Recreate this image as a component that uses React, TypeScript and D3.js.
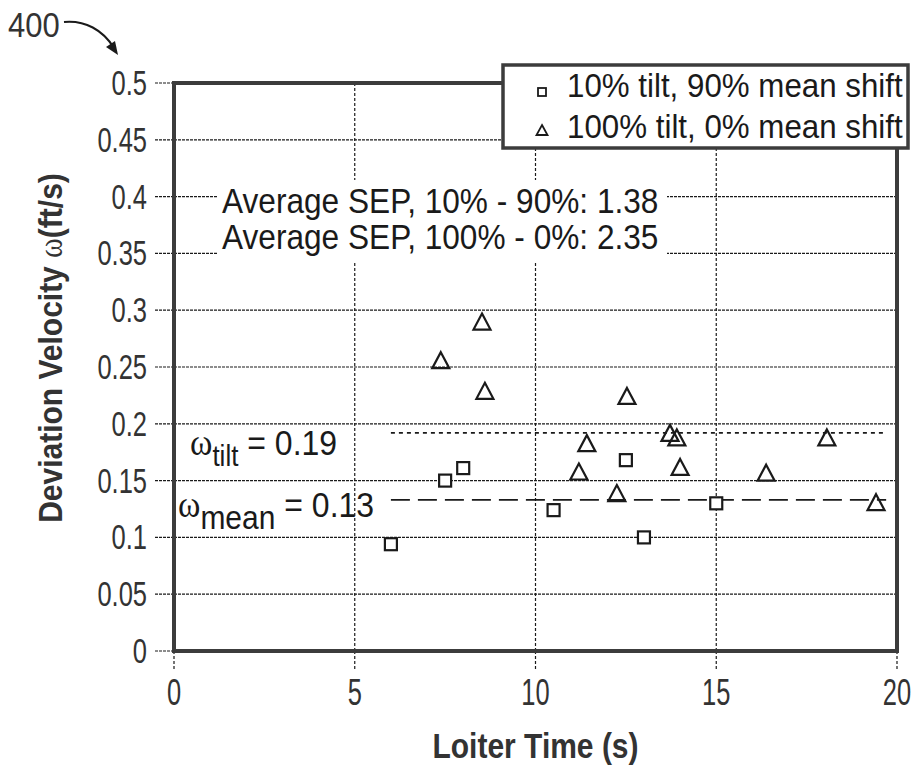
import React, { useRef, useEffect } from "react";
import * as d3 from "d3";

// 10% tilt, 90% mean shift (squares)
const squareTime = [6.0, 7.5, 8.0, 10.5, 12.5, 13.0, 15.0];
const squareVel = [0.094, 0.15, 0.161, 0.124, 0.168, 0.1, 0.13];

// 100% tilt, 0% mean shift (triangles)
const triTime = [7.38, 8.52, 8.6, 11.2, 11.42, 12.25, 12.53, 13.72, 13.91, 14.0, 16.38, 18.06, 19.42];
const triVel = [0.256, 0.29, 0.229, 0.158, 0.183, 0.139, 0.2245, 0.192, 0.188, 0.162, 0.157, 0.188, 0.131];

const xTicks = [0, 5, 10, 15, 20];
const yTicks = [0, 0.05, 0.1, 0.15, 0.2, 0.25, 0.3, 0.35, 0.4, 0.45, 0.5];
const yTickLabels = ["0", "0.05", "0.1", "0.15", "0.2", "0.25", "0.3", "0.35", "0.4", "0.45", "0.5"];

const omegaTilt = 0.192;
const omegaMean = 0.133;
const refLineRange = [6.0, 19.7];

const legendLabels = ["10% tilt, 90% mean shift", "100% tilt, 0% mean shift"];
const sepLines = ["Average SEP, 10% - 90%: 1.38", "Average SEP, 100% - 0%: 2.35"];

const App = () => {
    const plot = useRef<SVGSVGElement>(null);

    const width = 919;
    const height = 770;
    const left = 174, right = 897, top = 83, bottom = 651;
    const font = "'Liberation Sans', Arial, sans-serif";
    const ink = "#1a1a1a";

    useEffect(() => {
        const svg = d3.select(plot.current);
        svg.selectAll("*").remove();

        const x = d3.scaleLinear().domain([0, 20]).range([left, right]);
        const y = d3.scaleLinear().domain([0, 0.5]).range([bottom, top]);

        // gridlines
        svg.append("g")
            .selectAll("line")
            .data(yTicks.slice(1, -1))
            .join("line")
            .attr("x1", left).attr("x2", right)
            .attr("y1", d => y(d)).attr("y2", d => y(d))
            .attr("stroke", ink).attr("stroke-width", 1.2)
            .attr("stroke-dasharray", "3,1");
        svg.append("g")
            .selectAll("line")
            .data(xTicks.slice(1, -1))
            .join("line")
            .attr("x1", d => x(d)).attr("x2", d => x(d))
            .attr("y1", top).attr("y2", bottom)
            .attr("stroke", ink).attr("stroke-width", 1.2)
            .attr("stroke-dasharray", "3,2");

        // outside ticks
        svg.append("g")
            .selectAll("line")
            .data(yTicks)
            .join("line")
            .attr("x1", left - 19).attr("x2", left)
            .attr("y1", d => y(d)).attr("y2", d => y(d))
            .attr("stroke", ink).attr("stroke-width", 1.2)
            .attr("stroke-dasharray", "3,1");
        svg.append("g")
            .selectAll("line")
            .data(xTicks)
            .join("line")
            .attr("x1", d => x(d)).attr("x2", d => x(d))
            .attr("y1", bottom).attr("y2", bottom + 19)
            .attr("stroke", ink).attr("stroke-width", 1.2)
            .attr("stroke-dasharray", "3,2");

        // SEP annotation box (white, hides gridlines)
        svg.append("rect")
            .attr("x", 218).attr("y", 180).attr("width", 449).attr("height", 82)
            .attr("fill", "white");
        svg.append("g")
            .selectAll("text")
            .data(sepLines)
            .join("text")
            .attr("transform", (d, i) => `translate(222, ${213 + i * 36}) scale(1.02, 1.15)`)
            .attr("font-family", font).attr("font-size", 31)
            .attr("fill", ink)
            .text(d => d);

        // reference lines
        svg.append("line")
            .attr("x1", x(refLineRange[0])).attr("x2", x(refLineRange[1]))
            .attr("y1", y(omegaTilt)).attr("y2", y(omegaTilt))
            .attr("stroke", ink).attr("stroke-width", 1.6)
            .attr("stroke-dasharray", "4,4");
        svg.append("line")
            .attr("x1", x(refLineRange[0])).attr("x2", x(refLineRange[1]))
            .attr("y1", y(omegaMean)).attr("y2", y(omegaMean))
            .attr("stroke", ink).attr("stroke-width", 1.6)
            .attr("stroke-dasharray", "19,8");

        // omega labels
        const tiltLbl = svg.append("text")
            .attr("transform", "translate(190, 455) scale(1, 1.1)")
            .attr("font-family", font).attr("font-size", 32).attr("fill", ink);
        tiltLbl.append("tspan").attr("font-family", "'Liberation Serif', serif").attr("font-size", 34).text("ω");
        tiltLbl.append("tspan").attr("dy", 10).attr("font-size", 26).text("tilt");
        tiltLbl.append("tspan").attr("dy", -10).text(" = 0.19");

        const meanLbl = svg.append("text")
            .attr("transform", "translate(178, 517) scale(1, 1.1)")
            .attr("font-family", font).attr("font-size", 32).attr("fill", ink);
        meanLbl.append("tspan").attr("font-family", "'Liberation Serif', serif").attr("font-size", 34).text("ω");
        meanLbl.append("tspan").attr("dy", 11).attr("font-size", 30).text("mean");
        meanLbl.append("tspan").attr("dy", -11).text(" = 0.13");

        // markers
        const tri = "M0,-8L8.5,8L-8.5,8Z";
        svg.append("g")
            .selectAll("path")
            .data(triTime.map((t, i) => [t, triVel[i]]))
            .join("path")
            .attr("transform", d => `translate(${x(d[0])}, ${y(d[1])})`)
            .attr("d", tri)
            .attr("fill", "none").attr("stroke", ink).attr("stroke-width", 2.2)
            .attr("stroke-linejoin", "miter");
        svg.append("g")
            .selectAll("rect")
            .data(squareTime.map((t, i) => [t, squareVel[i]]))
            .join("rect")
            .attr("x", d => x(d[0]) - 6).attr("y", d => y(d[1]) - 6)
            .attr("width", 12).attr("height", 12)
            .attr("fill", "white").attr("stroke", ink).attr("stroke-width", 2.2);

        // plot frame
        svg.append("rect")
            .attr("x", left).attr("y", top)
            .attr("width", right - left).attr("height", bottom - top)
            .attr("fill", "none").attr("stroke", "#3c3c3c").attr("stroke-width", 4);

        // legend
        svg.append("rect")
            .attr("x", 503).attr("y", 65).attr("width", 405).attr("height", 83)
            .attr("fill", "white").attr("stroke", "#3c3c3c").attr("stroke-width", 3.5);
        svg.append("g")
            .selectAll("text")
            .data(legendLabels)
            .join("text")
            .attr("transform", (d, i) => `translate(567, ${97 + i * 41}) scale(1.01, 1.1)`)
            .attr("font-family", font).attr("font-size", 31)
            .attr("fill", ink)
            .text(d => d);
        svg.append("rect")
            .attr("x", 538).attr("y", 88).attr("width", 8).attr("height", 8)
            .attr("fill", "none").attr("stroke", ink).attr("stroke-width", 1.8);
        svg.append("path")
            .attr("transform", "translate(542, 130)")
            .attr("d", "M0,-5L5.5,5L-5.5,5Z")
            .attr("fill", "none").attr("stroke", ink).attr("stroke-width", 1.8);

        // tick labels
        svg.append("g")
            .selectAll("text")
            .data(yTicks)
            .join("text")
            .attr("transform", d => `translate(147, ${y(d) + 12}) scale(0.85, 1.15)`)
            .attr("text-anchor", "end")
            .attr("font-family", font).attr("font-size", 30)
            .attr("fill", "#333")
            .text((d, i) => yTickLabels[i]);
        svg.append("g")
            .selectAll("text")
            .data(xTicks)
            .join("text")
            .attr("transform", d => `translate(${x(d)}, 705) scale(0.85, 1.25)`)
            .attr("text-anchor", "middle")
            .attr("font-family", font).attr("font-size", 30)
            .attr("fill", "#333")
            .text(d => d);

        // axis titles
        svg.append("text")
            .attr("transform", `translate(${(left + right) / 2}, 758) scale(1, 1.15)`)
            .attr("text-anchor", "middle")
            .attr("font-family", font).attr("font-size", 30).attr("font-weight", "bold")
            .attr("fill", "#333")
            .text("Loiter Time (s)");
        const yt = svg.append("text")
            .attr("transform", "translate(62, 348) rotate(-90) scale(1, 1.1)")
            .attr("text-anchor", "middle")
            .attr("font-family", font).attr("font-size", 30).attr("font-weight", "bold")
            .attr("fill", "#333");
        yt.append("tspan").text("Deviation Velocity ");
        yt.append("tspan").attr("font-family", "'Liberation Serif', serif").attr("font-weight", "normal").text("ω");
        yt.append("tspan").text("(ft/s)");

        // figure reference numeral
        svg.append("text")
            .attr("transform", "translate(8, 37) scale(1, 1.15)")
            .attr("font-family", font).attr("font-size", 31)
            .attr("fill", "#333")
            .text("400");
        svg.append("path")
            .attr("d", "M64,22 C85,20 103,30 114,48")
            .attr("fill", "none").attr("stroke", ink).attr("stroke-width", 2);
        svg.append("path")
            .attr("d", "M118,55 L106,47 L115,41 Z")
            .attr("fill", ink);
    });

    return (
        <svg ref={plot} width={width} height={height}
            style={{ position: "absolute", left: 0, top: 0, background: "white" }} />
    );
};

export default App;
